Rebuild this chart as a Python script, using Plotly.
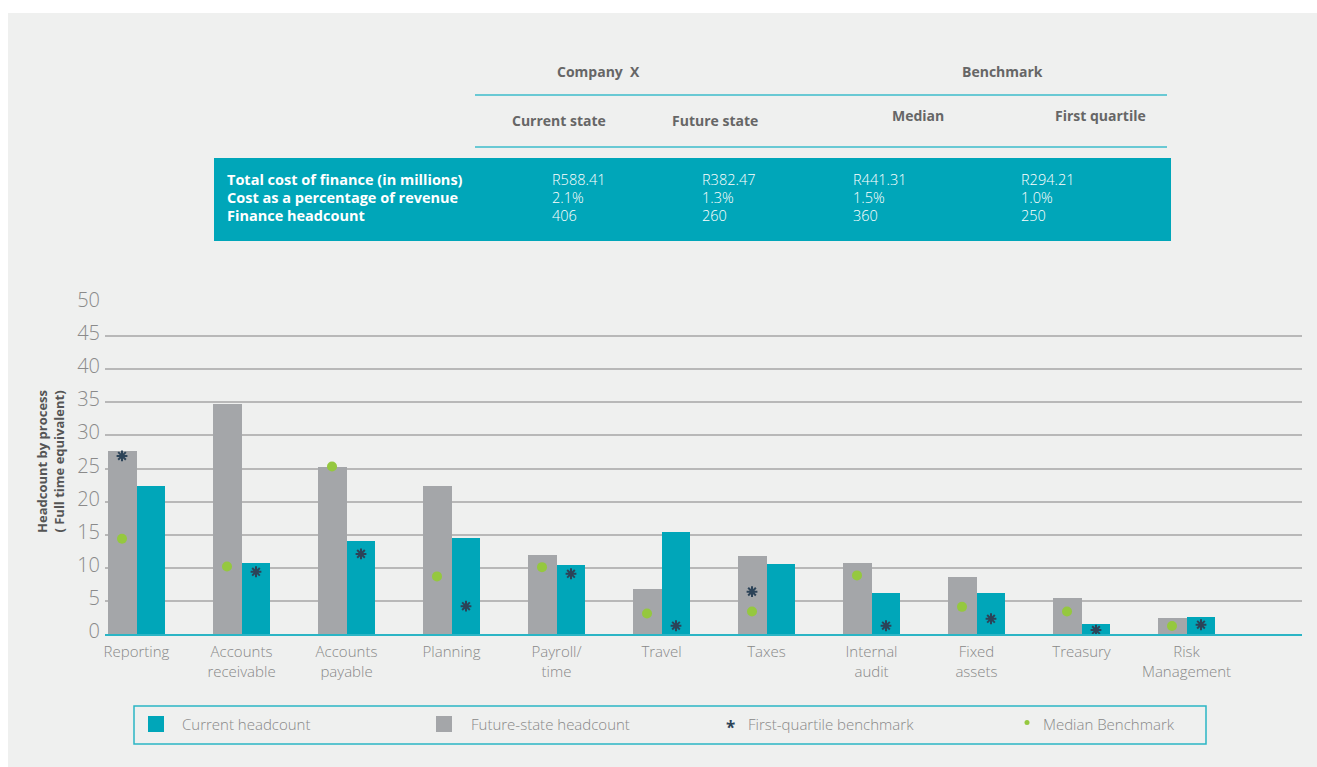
import plotly.graph_objects as go

# ---------------- data ----------------
categories = ["Reporting", "Accounts<br>receivable", "Accounts<br>payable", "Planning",
              "Payroll/<br>time", "Travel", "Taxes", "Internal<br>audit", "Fixed<br>assets",
              "Treasury", "Risk<br>Management"]
future_headcount = [27.6, 34.8, 25.3, 22.3, 11.9, 6.8, 11.8, 10.7, 8.6, 5.4, 2.4]
current_headcount = [22.3, 10.7, 14.0, 14.5, 10.4, 15.4, 10.6, 6.2, 6.2, 1.5, 2.6]
first_quartile = [26.9, 9.4, 12.1, 4.2, 9.1, 1.25, 6.4, 1.25, 2.3, 0.6, 1.4]
median_bench = [14.4, 10.2, 25.3, 8.7, 10.1, 3.1, 3.4, 8.85, 4.1, 3.4, 1.2]
# which bar each first-quartile star sits on (style)
star_on = ["future", "current", "current", "current", "current", "current",
           "future", "current", "current", "current", "current"]

yticks = [0, 5, 10, 15, 20, 25, 30, 35, 40, 45, 50]

series_names = ["Current headcount", "Future-state headcount", "First-quartile benchmark", "Median Benchmark"]

table_rows = ["Total cost of finance (in millions)", "Cost as a percentage of revenue", "Finance headcount"]
table_cols = ["Current state", "Future state", "Median", "First quartile"]
table_values = [["R588.41", "2.1%", "406"],
                ["R382.47", "1.3%", "260"],
                ["R441.31", "1.5%", "360"],
                ["R294.21", "1.0%", "250"]]

# ---------------- style ----------------
TEAL = "#00A6B9"
GREY = "#A4A6A9"
GREEN = "#95C83F"
NAVY = "#2C4358"
BG = "#EFF0EF"
FONT = "Open Sans"

W, H = 1317, 767
L, R, T, B = 105, 15, 303, 133
PW, PH = W - L - R, H - T - B


def px(x):
    return (x - L) / PW


def py(y):
    return (H - B - y) / PH


idx = list(range(len(categories)))
bw = 0.276

fig = go.Figure()
fig.add_trace(go.Bar(x=idx, y=current_headcount, width=bw, offset=0, showlegend=False,
                     marker=dict(color=TEAL, line=dict(width=0)), name=series_names[0]))
fig.add_trace(go.Bar(x=idx, y=future_headcount, width=bw, offset=-bw, showlegend=False,
                     marker=dict(color=GREY, line=dict(width=0)), name=series_names[1]))
star_x = [i + (-bw / 2 if s == "future" else bw / 2) for i, s in zip(idx, star_on)]
fig.add_trace(go.Scatter(x=star_x, y=first_quartile, mode="markers", name=series_names[2],
                         showlegend=False,
                         marker=dict(symbol="asterisk-open", size=9, color=NAVY,
                                     line=dict(color=NAVY, width=2))))
fig.add_trace(go.Scatter(x=[i - bw / 2 for i in idx], y=median_bench, mode="markers",
                         name=series_names[3], showlegend=False,
                         marker=dict(symbol="circle", size=10, color=GREEN)))

shapes = []
annotations = []

# grey background panel
shapes.append(dict(type="rect", xref="paper", yref="paper", x0=px(8), x1=px(1330), y0=py(13), y1=py(780),
                   fillcolor=BG, line=dict(width=0), layer="below"))
# table header lines
for yl in (95, 147):
    shapes.append(dict(type="line", xref="paper", yref="paper", x0=px(475), x1=px(1167), y0=py(yl), y1=py(yl),
                       line=dict(color="#3DBDCB", width=1.5)))
# teal table body
shapes.append(dict(type="rect", xref="paper", yref="paper", x0=px(214), x1=px(1171), y0=py(158), y1=py(241),
                   fillcolor=TEAL, line=dict(width=0)))

hdr_font = dict(family=FONT, size=14, color="#666666", weight="bold")
annotations.append(dict(text="Company \u00a0X", x=px(598), y=py(71), xref="paper", yref="paper",
                        showarrow=False, font=hdr_font, xanchor="center", yanchor="middle"))
annotations.append(dict(text="Benchmark", x=px(1002), y=py(71), xref="paper", yref="paper",
                        showarrow=False, font=hdr_font, xanchor="center", yanchor="middle"))
col_hdr_pos = [(559, 121), (715, 121), (918, 115), (1100, 115)]
for name, (cx, cy) in zip(table_cols, col_hdr_pos):
    annotations.append(dict(text=name, x=px(cx), y=py(cy), xref="paper", yref="paper",
                            showarrow=False, font=hdr_font, xanchor="center", yanchor="middle"))
row_y = [179, 197, 215]
for name, ry in zip(table_rows, row_y):
    annotations.append(dict(text=name, x=px(225), y=py(ry), xref="paper", yref="paper",
                            showarrow=False, xanchor="left", yanchor="middle",
                            font=dict(family=FONT, size=14.5, color="white", weight="bold")))
col_x = [550, 700, 851, 1019]
for vals, cx in zip(table_values, col_x):
    for v, ry in zip(vals, row_y):
        annotations.append(dict(text=v, x=px(cx), y=py(ry), xref="paper", yref="paper",
                                showarrow=False, xanchor="left", yanchor="middle",
                                font=dict(family=FONT, size=14.5, color="white", weight=300)))
# y-axis title
annotations.append(dict(text="Headcount by process<br>( Full time equivalent)", x=px(50), y=py(462),
                        xref="paper", yref="paper", showarrow=False, textangle=-90,
                        xanchor="center", yanchor="middle",
                        font=dict(family=FONT, size=13, color="#555555", weight="bold")))

# ---------------- legend (drawn) ----------------
leg_font = dict(family=FONT, size=15, color="#888888", weight=300)
shapes.append(dict(type="rect", xref="paper", yref="paper", x0=px(134), x1=px(1206), y0=py(706), y1=py(744),
                   fillcolor="rgba(0,0,0,0)", line=dict(color="#2BB5C5", width=1.5)))
shapes.append(dict(type="rect", xref="paper", yref="paper", x0=px(148), x1=px(164), y0=py(716), y1=py(732),
                   fillcolor=TEAL, line=dict(width=0)))
shapes.append(dict(type="rect", xref="paper", yref="paper", x0=px(436), x1=px(452), y0=py(716), y1=py(732),
                   fillcolor=GREY, line=dict(width=0)))
shapes.append(dict(type="circle", xref="paper", yref="paper", x0=px(1024.5), x1=px(1029.5),
                   y0=py(720), y1=py(725), fillcolor=GREEN, line=dict(width=0)))
annotations.append(dict(text="*", x=px(730), y=py(727), xref="paper", yref="paper", showarrow=False,
                        xanchor="center", yanchor="middle",
                        font=dict(family=FONT, size=17, color=NAVY, weight="bold")))
for name, lx in zip(series_names, [180, 469, 746, 1041]):
    annotations.append(dict(text=name, x=px(lx), y=py(724), xref="paper", yref="paper", showarrow=False,
                            xanchor="left", yanchor="middle", font=leg_font))

fig.update_layout(
    width=W, height=H,
    margin=dict(l=L, r=R, t=T, b=B, autoexpand=False),
    paper_bgcolor="white", plot_bgcolor="rgba(0,0,0,0)",
    barmode="overlay", bargap=0,
    font=dict(family=FONT, color="#888888"),
    shapes=shapes, annotations=annotations,
    showlegend=False,
    xaxis=dict(range=[-0.3, 11.1], tickmode="array", tickvals=idx, ticktext=categories,
               showgrid=False, zeroline=False, showline=True, linecolor="#2BB5C5", linewidth=2,
               ticks="", ticklabelstandoff=3,
               tickfont=dict(family=FONT, size=15, color="#888888", weight=300),
               fixedrange=True),
    yaxis=dict(range=[0, 50], tickmode="array", tickvals=yticks, showgrid=True,
               gridcolor="#B8B8B8", gridwidth=1.5, zeroline=False, showline=False, ticks="",
               ticklabelshift=-3, ticklabelstandoff=4,
               tickfont=dict(family=FONT, size=20, color="#8A8A8A", weight=300),
               fixedrange=True),
)

fig.write_html("out.html")
